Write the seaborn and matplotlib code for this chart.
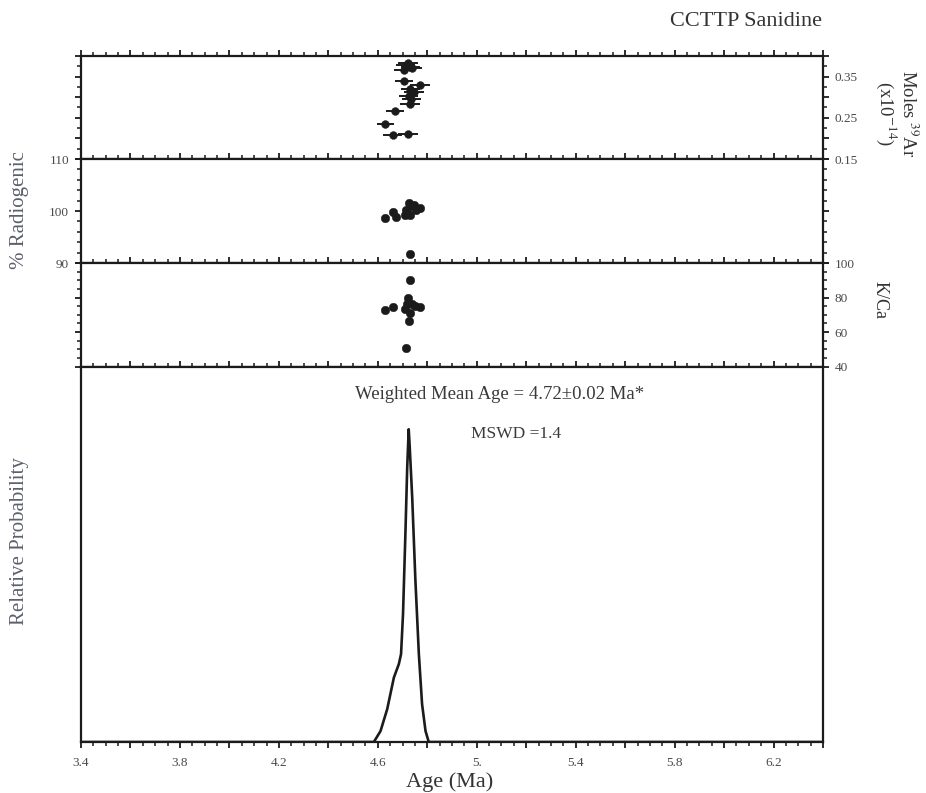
import numpy as np
import pandas as pd
import matplotlib
matplotlib.use("Agg")
import matplotlib.pyplot as plt
import seaborn as sns
from matplotlib.ticker import MultipleLocator, FuncFormatter

# ---------------- data ----------------
ar_age = [4.712, 4.721, 4.732, 4.705, 4.740, 4.705, 4.770, 4.732, 4.745, 4.725,
          4.736, 4.729, 4.671, 4.631, 4.660, 4.723]
ar_moles = [0.378, 0.382, 0.374, 0.366, 0.370, 0.339, 0.329, 0.320, 0.312, 0.304,
            0.296, 0.283, 0.267, 0.236, 0.208, 0.211]
ar_err = [0.040, 0.040, 0.040, 0.038, 0.040, 0.036, 0.040, 0.040, 0.040, 0.038,
          0.038, 0.040, 0.036, 0.036, 0.038, 0.040]

rad_age = [4.631, 4.660, 4.674, 4.712, 4.725, 4.745, 4.732, 4.772, 4.719, 4.708,
           4.756, 4.732, 4.729]
rad_pct = [98.6, 99.9, 98.9, 100.2, 101.5, 101.2, 99.2, 100.5, 99.9, 99.3,
           100.2, 101.0, 91.7]

kca_age = [4.729, 4.631, 4.662, 4.708, 4.721, 4.719, 4.739, 4.752, 4.772, 4.732,
           4.725, 4.715]
kca_val = [90.3, 72.6, 74.5, 73.5, 79.8, 76.0, 76.0, 75.1, 74.5, 71.3, 66.5, 50.7]

prob_age = [3.40, 4.584, 4.611, 4.638, 4.665, 4.685, 4.694, 4.702, 4.712, 4.719,
            4.725, 4.729, 4.739, 4.752, 4.766, 4.779, 4.793, 4.806, 6.40]
prob_val = [0.0, 0.0, 0.035, 0.105, 0.206, 0.249, 0.281, 0.410, 0.677, 0.880,
            1.0, 0.944, 0.784, 0.517, 0.281, 0.121, 0.035, 0.0, 0.0]

xtick_vals = [3.4, 3.8, 4.2, 4.6, 5.0, 5.4, 5.8, 6.2]
xtick_labels = ["3.4", "3.8", "4.2", "4.6", "5.", "5.4", "5.8", "6.2"]
ar_tick_labels = {0.15: "0.15", 0.25: "0.25", 0.35: "0.35"}
rad_tick_labels = {90: "90", 100: "100", 110: "110"}
kca_tick_labels = {40: "40", 60: "60", 80: "80", 100: "100"}

df_ar = pd.DataFrame({"age": ar_age, "moles": ar_moles, "err": ar_err})
df_rad = pd.DataFrame({"age": rad_age, "pct": rad_pct})
df_kca = pd.DataFrame({"age": kca_age, "kca": kca_val})
df_prob = pd.DataFrame({"age": prob_age, "prob": prob_val})

# ---------------- style ----------------
sns.set_theme(style="white")
plt.rcParams['font.family'] = ['Liberation Serif', 'DejaVu Serif']
plt.rcParams['mathtext.fontset'] = 'stix'

INK = "#1b1b1b"
TICKC = "#4a4a4a"
LABC = "#5c5f6c"
TLS = 9.5

W, H = 926, 793
fig = plt.figure(figsize=(W / 100, H / 100), dpi=100)
gs = fig.add_gridspec(4, 1, height_ratios=[103, 104, 103.7, 375.3],
                      left=81 / W, right=823 / W, top=1 - 56 / H, bottom=1 - 742 / H,
                      hspace=0)
axes = [fig.add_subplot(gs[i]) for i in range(4)]


def fmt_from(d):
    def f(v, pos):
        for k, s in d.items():
            if abs(v - k) < 1e-6:
                return s
        return ""
    return FuncFormatter(f)


xlab = dict(zip(xtick_vals, xtick_labels))
for i, ax in enumerate(axes):
    ax.set_xlim(3.4, 6.4)
    ax.xaxis.set_major_locator(MultipleLocator(0.2))
    ax.xaxis.set_minor_locator(MultipleLocator(0.05))
    ax.xaxis.set_major_formatter(fmt_from(xlab))
    ax.tick_params(axis="x", which="both", direction="out", top=True, bottom=True,
                   labelbottom=(i == 3), labeltop=False, color=INK,
                   labelcolor=TICKC, labelsize=TLS, pad=6)
    ax.tick_params(axis="x", which="major", length=4.5, width=1.3)
    ax.tick_params(axis="x", which="minor", length=2.8, width=1.1)
    for sp in ax.spines.values():
        sp.set_color(INK)
        sp.set_linewidth(1.6)


def style_y(ax, left_labels):
    ax.tick_params(axis="y", which="both", direction="out", left=True, right=True,
                   labelleft=left_labels, labelright=not left_labels, color=INK,
                   labelcolor=TICKC, labelsize=TLS, pad=4)
    ax.tick_params(axis="y", which="major", length=4.5, width=1.3)
    ax.tick_params(axis="y", which="minor", length=2.8, width=1.1)
    ax.set_xlabel("")
    ax.set_ylabel("")


# ---- panel 1: moles 39Ar ----
ax1 = axes[0]
ax1.errorbar(df_ar["age"], df_ar["moles"], xerr=df_ar["err"], fmt="none",
             ecolor=INK, elinewidth=1.4, capsize=0, zorder=2)
sns.scatterplot(data=df_ar, x="age", y="moles", ax=ax1, color=INK, s=32,
                edgecolor=INK, linewidth=0.3, zorder=3, legend=False)
ax1.set_ylim(0.15, 0.40)
ax1.yaxis.set_major_locator(MultipleLocator(0.05))
ax1.yaxis.set_minor_locator(MultipleLocator(0.025))
ax1.yaxis.set_major_formatter(fmt_from(ar_tick_labels))
style_y(ax1, False)

# ---- panel 2: % radiogenic ----
ax2 = axes[1]
sns.scatterplot(data=df_rad, x="age", y="pct", ax=ax2, color=INK, s=38,
                edgecolor=INK, linewidth=0.3, legend=False)
ax2.set_ylim(90, 110)
ax2.yaxis.set_major_locator(MultipleLocator(10))
ax2.yaxis.set_minor_locator(MultipleLocator(2))
ax2.yaxis.set_major_formatter(fmt_from(rad_tick_labels))
style_y(ax2, True)

# ---- panel 3: K/Ca ----
ax3 = axes[2]
sns.scatterplot(data=df_kca, x="age", y="kca", ax=ax3, color=INK, s=38,
                edgecolor=INK, linewidth=0.3, legend=False)
ax3.set_ylim(40, 100)
ax3.yaxis.set_major_locator(MultipleLocator(20))
ax3.yaxis.set_minor_locator(MultipleLocator(5))
ax3.yaxis.set_major_formatter(fmt_from(kca_tick_labels))
style_y(ax3, False)

# ---- panel 4: relative probability ----
ax4 = axes[3]
sns.lineplot(data=df_prob, x="age", y="prob", ax=ax4, color=INK, linewidth=1.9,
             sort=False, estimator=None)
ax4.set_ylim(0, 1.2)
ax4.set_yticks([])
ax4.set_xlabel(""); ax4.set_ylabel("")
ax4.text(5.092, 1.11, "Weighted Mean Age = 4.72\u00b10.02 Ma*", ha="center",
         va="center", fontsize=13.5, color="#3a3a3a")
ax4.text(5.161, 0.985, "MSWD =1.4", ha="center", va="center", fontsize=12.5,
         color="#3a3a3a")

# ---- figure texts ----
fig.text(822 / W, 1 - 22 / H, "CCTTP Sanidine", ha="right", va="center",
         fontsize=16, color="#333333")
fig.text(450 / W, 1 - 782 / H, "Age (Ma)", ha="center", va="center",
         fontsize=16, color="#333333")
fig.text(20 / W, 1 - 210 / H, "% Radiogenic", rotation=90, ha="center",
         va="center", fontsize=15, color=LABC)
fig.text(20 / W, 1 - 541 / H, "Relative Probability", rotation=90, ha="center",
         va="center", fontsize=15, color=LABC)
fig.text(896 / W, 1 - 114 / H, "Moles $^{39}$Ar\n(x10$^{-14}$)", rotation=-90,
         ha="center", va="center", fontsize=13.5, color="#333333",
         multialignment="center", linespacing=1.0)
fig.text(880 / W, 1 - 300 / H, "K/Ca", rotation=-90, ha="center", va="center",
         fontsize=13, color="#333333")

fig.savefig("out.png", dpi=100)
